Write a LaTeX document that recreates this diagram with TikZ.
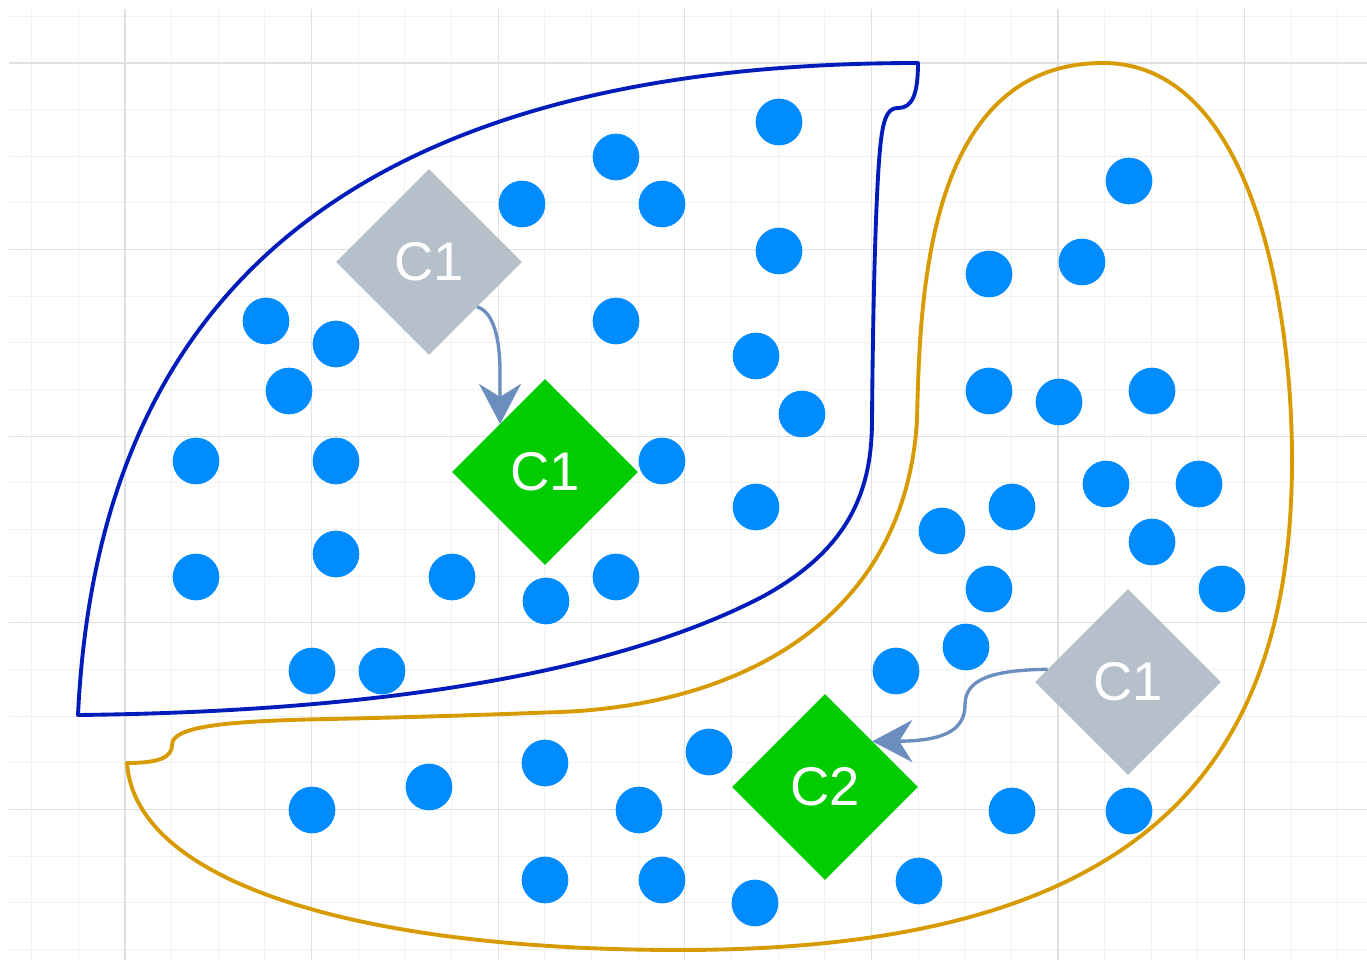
\documentclass[tikz,border=0pt]{standalone}
\usepackage{fontspec}
\newfontfamily\lab{Liberation Sans}
\usetikzlibrary{shapes.geometric,arrows.meta}
\definecolor{gridminor}{HTML}{F1F1F1}
\definecolor{gridmajor}{HTML}{E0E0E0}
\definecolor{dotblue}{HTML}{008CFF}
\definecolor{greenfill}{HTML}{00CC00}
\definecolor{greyfill}{RGB}{175,186,198}
\definecolor{arrowcol}{HTML}{6C8EBF}
\definecolor{blueline}{HTML}{001DBC}
\definecolor{orangeline}{HTML}{D79B00}
\tikzset{
  dotnode/.style={circle, fill=dotblue, draw=none, inner sep=0pt, outer sep=0pt, minimum size=0.934cm},
  greenbox/.style={diamond, fill=greenfill, draw=none, inner sep=0pt, outer sep=0pt, minimum width=3.72cm, minimum height=3.72cm, text=white, font=\lab\fontsize{31}{31}\selectfont},
  greybox/.style={diamond, fill=greyfill, fill opacity=0.9, text opacity=1, draw=none, inner sep=0pt, outer sep=0pt, minimum width=3.72cm, minimum height=3.72cm, text=white, font=\lab\fontsize{31}{31}\selectfont},
  conn/.style={draw=arrowcol, line width=1.9pt, -{Stealth[length=0.8cm, width=0.84cm, inset=0.26cm]}},
  region/.style={line width=2.2pt, line join=round},
  minorline/.style={draw=gridminor, line width=0.6pt},
  majorline/.style={draw=gridmajor, line width=0.6pt}
}
\begin{document}
\begin{tikzpicture}[x=0.02cm, y=-0.02cm]
\useasboundingbox (0,0) rectangle (1367,960);
\fill[white] (0,0) rectangle (1367,960);
% grid
\foreach \i in {0,...,28} { \draw[minorline] ({31.7+\i*46.65},9) -- ({31.7+\i*46.65},960); }
\foreach \j in {0,...,20} { \draw[minorline] (9,{16.35+\j*46.65}) -- (1367,{16.35+\j*46.65}); }
\foreach \i in {0,...,6} { \draw[majorline] ({125+\i*186.6},9) -- ({125+\i*186.6},960); }
\foreach \j in {0,...,4} { \draw[majorline] (9,{63+\j*186.6}) -- (1367,{63+\j*186.6}); }

% blue region
\draw[region, draw=blueline]
  (78,715) .. controls (350,712) and (600,680) .. (760,598)
  .. controls (850,550) and (872,490) .. (872,420)
  .. controls (873,300) and (876,180) .. (881,140)
  .. controls (884,115) and (889,108) .. (898,108)
  .. controls (912,108) and (918,95) .. (918,63)
  .. controls (280,63) and (95,360) .. (78,715) -- cycle;

% orange region
\draw[region, draw=orangeline]
  (127,763) .. controls (160,763) and (172,757) .. (172,745)
  .. controls (172,727) and (220,721) .. (330,719)
  .. controls (420,717) and (480,715) .. (560,712)
  .. controls (740,705) and (905,620) .. (917,420)
  .. controls (920,300) and (925,63) .. (1103,63)
  .. controls (1250,63) and (1292,300) .. (1292,460)
  .. controls (1292,767) and (1144,950) .. (680,950)
  .. controls (350,950) and (135,880) .. (127,763) -- cycle;

% dots
\foreach \x/\y [count=\n] in {
  779/122, 616/157, 662/204, 522/204, 779/251, 266/321, 336/344, 616/321,
  756/356, 289/391, 802/414, 196/461, 336/461, 662/461, 756/507, 336/554,
  196/577, 452/577, 546/601, 616/577, 312/671, 382/671,
  1129/181, 989/274, 1082/262, 989/391, 1059/402, 1152/391, 1106/484, 1199/484,
  1012/507, 942/531, 1152/542, 989/589, 1222/589, 966/647, 896/671,
  709/752, 545/763, 429/787, 312/810, 639/810, 1012/811, 1129/811,
  545/880, 662/880, 755/903, 919/881}
  { \node[dotnode] (d\n) at (\x,\y) {}; }

% diamonds
\node[greybox] (g1) at (429,262) {C1};
\node[greenbox] (k1) at (545,472) {C1};
\node[greenbox] (k2) at (825,787) {C2};
\node[greybox] (g2) at (1128,682) {C1};

% connectors
\draw[conn] (g1.-43) .. controls (494,312) and (500,340) .. (500,372) -- (k1.133);
\draw[conn] (g2.171.6) .. controls (990,670) and (965,680) .. (965,705)
  .. controls (965,732) and (940,741) .. (k2.44.4);
\end{tikzpicture}
\end{document}
